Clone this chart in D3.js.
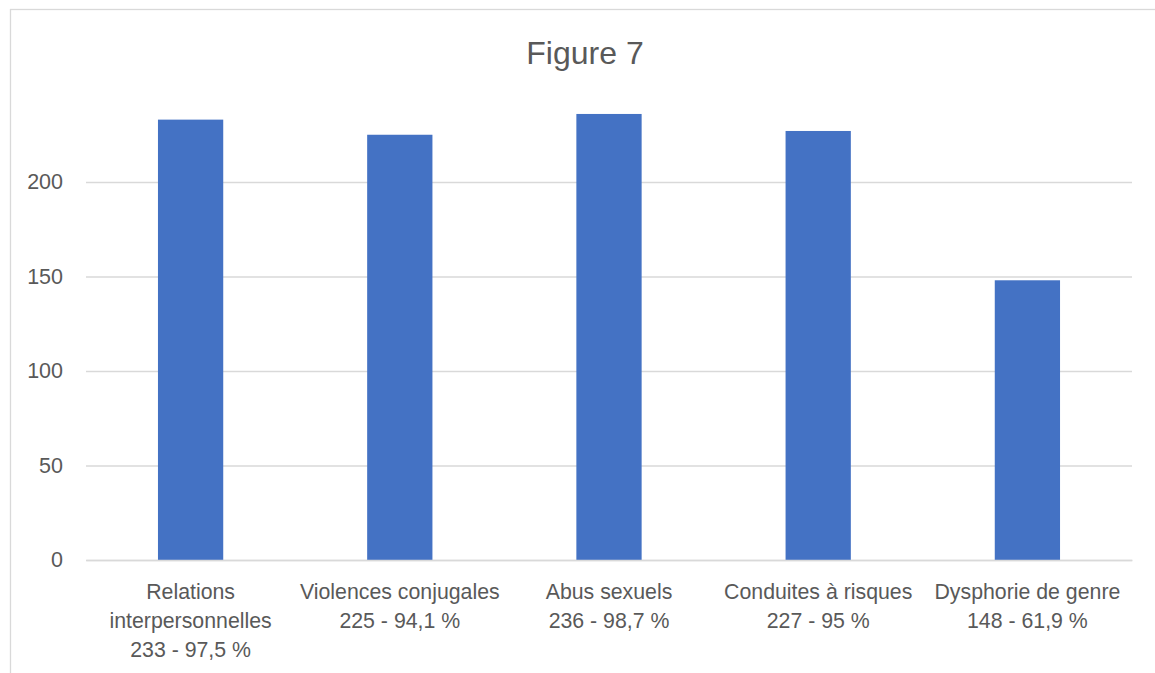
<!DOCTYPE html>
<html><head><meta charset="utf-8">
<script src="https://cdn.jsdelivr.net/npm/d3@7"></script>
<style>body{margin:0;background:#fff}svg{display:block}</style>
</head><body>
<svg id="c" width="1155" height="673"></svg>
<script>
const categories = [
  ["Relations", "interpersonnelles", "233 - 97,5 %"],
  ["Violences conjugales", "225 - 94,1 %"],
  ["Abus sexuels", "236 - 98,7 %"],
  ["Conduites à risques", "227 - 95 %"],
  ["Dysphorie de genre", "148 - 61,9 %"]
];
const values = [233, 225, 236, 227, 148];
const yTicks = [0, 50, 100, 150, 200];
const title = "Figure 7";

(function() {
const svg = d3.select("#c");
const font = "'Liberation Sans', Arial, sans-serif";
const textColor = "#595959";

svg.append("rect").attr("x", 10.5).attr("y", 9.5).attr("width", 1200).attr("height", 800)
  .attr("fill", "#fff").attr("stroke", "#d9d9d9").attr("stroke-width", 1.3);

const pLeft = 86, pRight = 1132, pTop = 87.5, pBottom = 560;
const keys = categories.map((d, i) => i);
const x = d3.scaleBand().domain(keys).range([pLeft, pRight]).paddingInner(0.688).paddingOuter(0.344);
const y = d3.scaleLinear().domain([0, 250]).range([pBottom, pTop]);

svg.append("text").attr("x", 585).attr("y", 64).attr("text-anchor", "middle")
  .attr("font-family", font).attr("font-size", 32).attr("fill", textColor).text(title);

const yAxis = d3.axisLeft(y).tickValues(yTicks).tickSize(-(pRight - pLeft)).tickPadding(23);
const gy = svg.append("g").attr("transform", `translate(${pLeft},0)`).call(yAxis);
gy.select(".domain").remove();
gy.selectAll(".tick line").attr("stroke", "#d9d9d9").attr("stroke-width", 1.3);
gy.selectAll(".tick text").attr("font-family", font).attr("font-size", 21.5).attr("fill", textColor);

svg.append("g").selectAll("rect").data(values).join("rect")
  .attr("x", (d, i) => x(i)).attr("width", x.bandwidth())
  .attr("y", d => y(d)).attr("height", d => y(0) - y(d))
  .attr("fill", "#4472c4");

const xAxis = d3.axisBottom(x).tickSize(0).tickFormat("");
const gx = svg.append("g").attr("transform", `translate(0,${pBottom})`).call(xAxis);
gx.select(".domain").attr("stroke", "#d9d9d9").attr("stroke-width", 1.3);
gx.selectAll(".tick").each(function(d) {
  const t = d3.select(this).append("text").attr("text-anchor", "middle")
    .attr("font-family", font).attr("font-size", 21.3).attr("fill", textColor);
  categories[d].forEach((line, j) => {
    t.append("tspan").attr("x", 0).attr("y", 39 + j * 29).text(line);
  });
});
})();
</script>
</body></html>
